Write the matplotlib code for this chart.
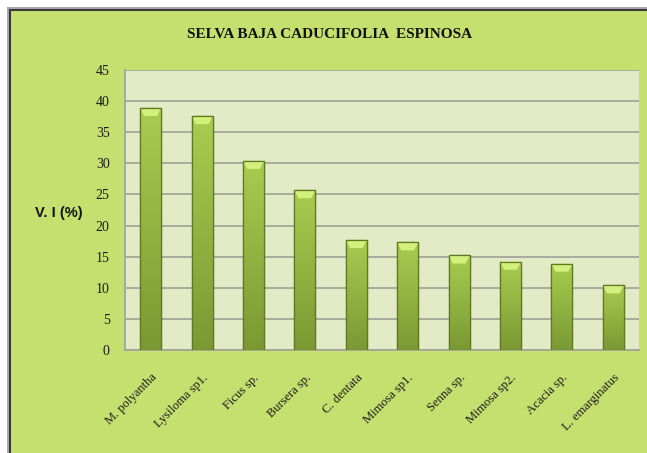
import numpy as np
import matplotlib.pyplot as plt
from matplotlib.patches import Rectangle
from matplotlib.lines import Line2D

species = ['M. polyantha', 'Lysiloma sp1.', 'Ficus sp.', 'Bursera sp.', 'C. dentata',
           'Mimosa sp1.', 'Senna sp.', 'Mimosa sp2.', 'Acacia sp.', 'L. emarginatus']
vi = [38.9, 37.6, 30.4, 25.7, 17.7, 17.3, 15.2, 14.2, 13.9, 10.4]
yticks = [0, 5, 10, 15, 20, 25, 30, 35, 40, 45]

W, H = 647, 453
fig = plt.figure(figsize=(W / 100, H / 100), dpi=100, facecolor='white')

# green chart area and frame
fig.patches.append(Rectangle((11 / W, 0), 1, 1 - 11 / H, transform=fig.transFigure,
                             facecolor='#c6e070', edgecolor='none', zorder=-5))
for off, col, lw in [(7.5, '#9a9a9a', 1.2), (9.5, '#3a3a3a', 1.5)]:
    fig.lines.append(Line2D([off / W, off / W], [0, 1 - off / H], transform=fig.transFigure,
                            color=col, lw=lw, zorder=-4))
    fig.lines.append(Line2D([off / W, 1], [1 - off / H, 1 - off / H], transform=fig.transFigure,
                            color=col, lw=lw, zorder=-4))

ax = fig.add_axes([125 / W, 1 - 350 / H, (639 - 125) / W, (350 - 70) / H])
ax.set_facecolor('#e3eac6')
x = np.arange(len(species))
bars = ax.bar(x, vi, width=0.41, color='#92b840', edgecolor='#5c7a22', linewidth=0.9, zorder=3)

# gradient fill inside each bar
grad = np.linspace(1, 0, 256).reshape(-1, 1)
cmap = plt.matplotlib.colors.LinearSegmentedColormap.from_list('g', ['#7a9933', '#a8cd50'])
for b in bars:
    bx, bw, bh = b.get_x(), b.get_width(), b.get_height()
    im = ax.imshow(grad, cmap=cmap, aspect='auto', extent=(bx, bx + bw, 0, bh), zorder=3.5)
    im.set_clip_path(b)
    # light bevel at the top
    ax.fill([bx, bx + bw, bx + bw * 0.8, bx + bw * 0.2], [bh, bh, bh - 1.3, bh - 1.3],
            color='#d4f07c', zorder=4, lw=0)
    ax.add_patch(Rectangle((bx, 0), bw, bh, fill=False, edgecolor='#5c7a22', lw=0.9, zorder=5))

ax.set_xlim(-0.5, len(species) - 0.5)
ax.set_ylim(0, 45)
ax.set_yticks(yticks)
ax.yaxis.grid(True, color='#a4a69a', lw=1.3, zorder=1)
ax.set_axisbelow(True)
for s in ['top', 'right']:
    ax.spines[s].set_visible(False)
for s in ['left', 'bottom']:
    ax.spines[s].set_color('#a4a69a')
    ax.spines[s].set_linewidth(1.3)
ax.tick_params(length=0)
ax.tick_params(axis='y', pad=11)
ax.set_yticklabels([str(t) for t in yticks], family='Liberation Serif', fontsize=10,
                   color='#1a1a1a')
ax.set_xticks(x)
ax.set_xticklabels(species, rotation=45, ha='right', va='top', rotation_mode='anchor',
                   family='Liberation Serif', fontsize=9, color='#1a1a1a')
for lab in ax.get_xticklabels():
    lab.set_position((0, -0.06))

fig.text(0.51, 1 - 34 / H, 'SELVA BAJA CADUCIFOLIA  ESPINOSA', ha='center', va='center',
         family='Liberation Serif', fontweight='bold', fontsize=11, color='#111111')
fig.text(59 / W, 1 - 213 / H, 'V. I (%)', ha='center', va='center',
         family='Liberation Sans', fontweight='bold', fontsize=10.5, color='#111111')

fig.savefig('out.png', dpi=100)
